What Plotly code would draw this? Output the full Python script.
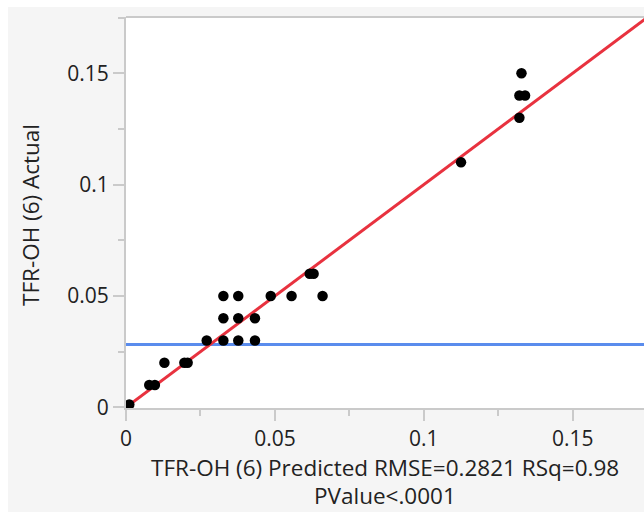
import plotly.graph_objects as go

# Predicted vs. actual values for TFR-OH (6)
predicted = [0.0011, 0.0078, 0.0097, 0.0129, 0.0196, 0.0207,
             0.0271, 0.0327, 0.0377, 0.0433,
             0.0327, 0.0377, 0.0433,
             0.0327, 0.0377, 0.0486, 0.0556, 0.0660,
             0.0617, 0.0630,
             0.1125, 0.1321, 0.1321, 0.1340, 0.1328]
actual = [0.0013, 0.01, 0.01, 0.02, 0.02, 0.02,
          0.03, 0.03, 0.03, 0.03,
          0.04, 0.04, 0.04,
          0.05, 0.05, 0.05, 0.05, 0.05,
          0.06, 0.06,
          0.11, 0.13, 0.14, 0.14, 0.15]

mean_actual = 0.0282          # horizontal mean line
fit_x = [0.0, 0.25]           # identity fit line (actual = predicted)

x_ticks = [0, 0.05, 0.1, 0.15]
x_tick_text = ["0", "0.05", "0.1", "0.15"]
y_ticks = [0, 0.05, 0.1, 0.15]
y_tick_text = ["0", "0.05", "0.1", "0.15"]

x_title = "TFR-OH (6) Predicted RMSE=0.2821 RSq=0.98"
x_title_2 = "PValue&lt;.0001"
y_title = "TFR-OH (6) Actual"

W, H = 644, 512
L, R, T, B = 126, 0, 17, 104
pw, ph = W - L - R, H - T - B

def px_x(p):
    return (p - L) / pw

def px_y(p):
    return (H - B - p) / ph

FONT = "Open Sans"
TEXT = "#222222"
AXIS_GREY = "#cacaca"

fig = go.Figure()

fig.add_trace(go.Scatter(
    x=[0, 1], y=[mean_actual, mean_actual], mode="lines",
    line=dict(color="#5a8ced", width=3), hoverinfo="skip", showlegend=False))

fig.add_trace(go.Scatter(
    x=fit_x, y=fit_x, mode="lines",
    line=dict(color="#e8323f", width=3), hoverinfo="skip", showlegend=False))

fig.add_trace(go.Scatter(
    x=predicted, y=actual, mode="markers",
    marker=dict(color="black", size=10.5), cliponaxis=False, showlegend=False))

axis_common = dict(
    showgrid=False, zeroline=False, showline=True, linecolor=AXIS_GREY,
    linewidth=2, ticks="outside", ticklen=11, tickwidth=2,
    tickcolor=AXIS_GREY, tickfont=dict(family=FONT, size=21, color=TEXT),
    minor=dict(ticks="outside", ticklen=6, tickwidth=2, tickcolor=AXIS_GREY,
               dtick=0.025),
)

fig.update_xaxes(range=[0, pw / 2978], tickmode="array", tickvals=x_ticks,
                 ticktext=x_tick_text, **axis_common)
fig.update_yaxes(range=[-0.0003, (H - B - T) / 2227 - 0.0003], tickmode="array",
                 tickvals=y_ticks, ticktext=y_tick_text, **axis_common)

shapes = [
    # white strips around the grey panel
    dict(type="rect", xref="paper", yref="paper", x0=px_x(0), x1=px_x(8),
         y0=px_y(H), y1=px_y(0), fillcolor="white", line_width=0, layer="below"),
    dict(type="rect", xref="paper", yref="paper", x0=px_x(0), x1=px_x(W + 2),
         y0=px_y(7), y1=px_y(0), fillcolor="white", line_width=0, layer="below"),
    # top frame line
    dict(type="line", xref="paper", yref="paper", x0=0, x1=1.01, y0=1, y1=1,
         line=dict(color=AXIS_GREY, width=2)),
]

annotations = [
    dict(text=x_title, xref="paper", yref="paper", x=0.5, y=px_y(467),
         xanchor="center", yanchor="middle", showarrow=False,
         font=dict(family=FONT, size=22.5, color=TEXT)),
    dict(text=x_title_2, xref="paper", yref="paper", x=0.5, y=px_y(495),
         xanchor="center", yanchor="middle", showarrow=False,
         font=dict(family=FONT, size=22.5, color=TEXT)),
    dict(text=y_title, xref="paper", yref="paper", x=px_x(30), y=px_y(215),
         xanchor="center", yanchor="middle", textangle=-90, showarrow=False,
         font=dict(family=FONT, size=22.5, color=TEXT)),
]

fig.update_layout(
    width=W, height=H,
    margin=dict(l=L, r=R, t=T, b=B, pad=0),
    paper_bgcolor="#f5f5f5", plot_bgcolor="white",
    shapes=shapes, annotations=annotations,
    showlegend=False,
)

fig.write_html("out.html")
